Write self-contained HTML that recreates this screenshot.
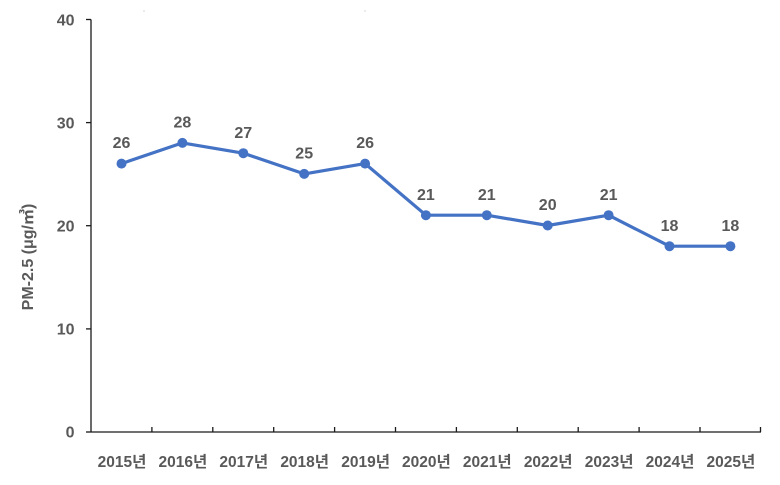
<!DOCTYPE html>
<html>
<head>
<meta charset="utf-8">
<style>
  html,body{margin:0;padding:0;background:#fff;}
  svg{display:block;}
  text{font-family:"Liberation Sans","Noto Sans CJK KR","NanumGothic",sans-serif;font-weight:bold;fill:#595959;}
</style>
</head>
<body>
<svg width="780" height="485" viewBox="0 0 780 485" xmlns="http://www.w3.org/2000/svg">
  <rect width="780" height="485" fill="#fff"/>
  <!-- axes -->
  <g stroke="#1a1a1a" stroke-width="1.3" fill="none">
    <line x1="91" y1="19.5" x2="91" y2="432"/>
    <line x1="91" y1="432" x2="761" y2="432"/>
    <!-- y ticks -->
    <line x1="86" y1="19.5" x2="91" y2="19.5"/>
    <line x1="86" y1="122.6" x2="91" y2="122.6"/>
    <line x1="86" y1="225.7" x2="91" y2="225.7"/>
    <line x1="86" y1="328.9" x2="91" y2="328.9"/>
    <line x1="86" y1="432" x2="91" y2="432"/>
    <!-- x ticks -->
    <line x1="151.9" y1="427" x2="151.9" y2="432"/>
    <line x1="212.8" y1="427" x2="212.8" y2="432"/>
    <line x1="273.7" y1="427" x2="273.7" y2="432"/>
    <line x1="334.6" y1="427" x2="334.6" y2="432"/>
    <line x1="395.5" y1="427" x2="395.5" y2="432"/>
    <line x1="456.4" y1="427" x2="456.4" y2="432"/>
    <line x1="517.3" y1="427" x2="517.3" y2="432"/>
    <line x1="578.2" y1="427" x2="578.2" y2="432"/>
    <line x1="639.1" y1="427" x2="639.1" y2="432"/>
    <line x1="700" y1="427" x2="700" y2="432"/>
    <line x1="760.5" y1="427" x2="760.5" y2="432"/>
  </g>
  <!-- y tick labels -->
  <g font-size="16" text-anchor="end">
    <text x="74.5" y="25.5">40</text>
    <text x="74.5" y="128.5">30</text>
    <text x="74.5" y="231.5">20</text>
    <text x="74.5" y="334.5">10</text>
    <text x="74.5" y="437.5">0</text>
  </g>
  <!-- y title -->
  <text font-size="16" text-anchor="middle" transform="translate(33,257) rotate(-90)">PM-2.5 (μg/㎥)</text>
  <!-- x labels -->
  <g font-size="15.5" text-anchor="middle">
    <text x="122" y="467">2015년</text>
    <text x="182.9" y="467">2016년</text>
    <text x="243.8" y="467">2017년</text>
    <text x="304.7" y="467">2018년</text>
    <text x="365.6" y="467">2019년</text>
    <text x="426.4" y="467">2020년</text>
    <text x="487.3" y="467">2021년</text>
    <text x="548.2" y="467">2022년</text>
    <text x="609.1" y="467">2023년</text>
    <text x="670" y="467">2024년</text>
    <text x="730.9" y="467">2025년</text>
  </g>
  <!-- series -->
  <polyline fill="none" stroke="#4472C4" stroke-width="3.2" stroke-linejoin="round"
    points="121.5,163.6 182.4,142.9 243.3,153.2 304.2,173.9 365.1,163.6 425.9,215.2 486.8,215.2 547.7,225.5 608.6,215.2 669.5,246.2 730.4,246.2"/>
  <g fill="#4472C4">
    <circle cx="121.5" cy="163.6" r="5"/>
    <circle cx="182.4" cy="142.9" r="5"/>
    <circle cx="243.3" cy="153.2" r="5"/>
    <circle cx="304.2" cy="173.9" r="5"/>
    <circle cx="365.1" cy="163.6" r="5"/>
    <circle cx="425.9" cy="215.2" r="5"/>
    <circle cx="486.8" cy="215.2" r="5"/>
    <circle cx="547.7" cy="225.5" r="5"/>
    <circle cx="608.6" cy="215.2" r="5"/>
    <circle cx="669.5" cy="246.2" r="5"/>
    <circle cx="730.4" cy="246.2" r="5"/>
  </g>
  <!-- data labels -->
  <g font-size="16" text-anchor="middle" style="fill:#404040">
    <text x="121.5" y="148">26</text>
    <text x="182.4" y="127.5">28</text>
    <text x="243.3" y="138">27</text>
    <text x="304.2" y="158.5">25</text>
    <text x="365.1" y="148">26</text>
    <text x="425.9" y="200">21</text>
    <text x="486.8" y="200">21</text>
    <text x="547.7" y="210">20</text>
    <text x="608.6" y="200">21</text>
    <text x="669.5" y="231">18</text>
    <text x="730.4" y="231">18</text>
  </g>
  <!-- faint artifacts at top -->
  <circle cx="144" cy="11" r="0.7" fill="#ccc"/>
  <circle cx="365" cy="11" r="0.7" fill="#ccc"/>
</svg>
</body>
</html>
